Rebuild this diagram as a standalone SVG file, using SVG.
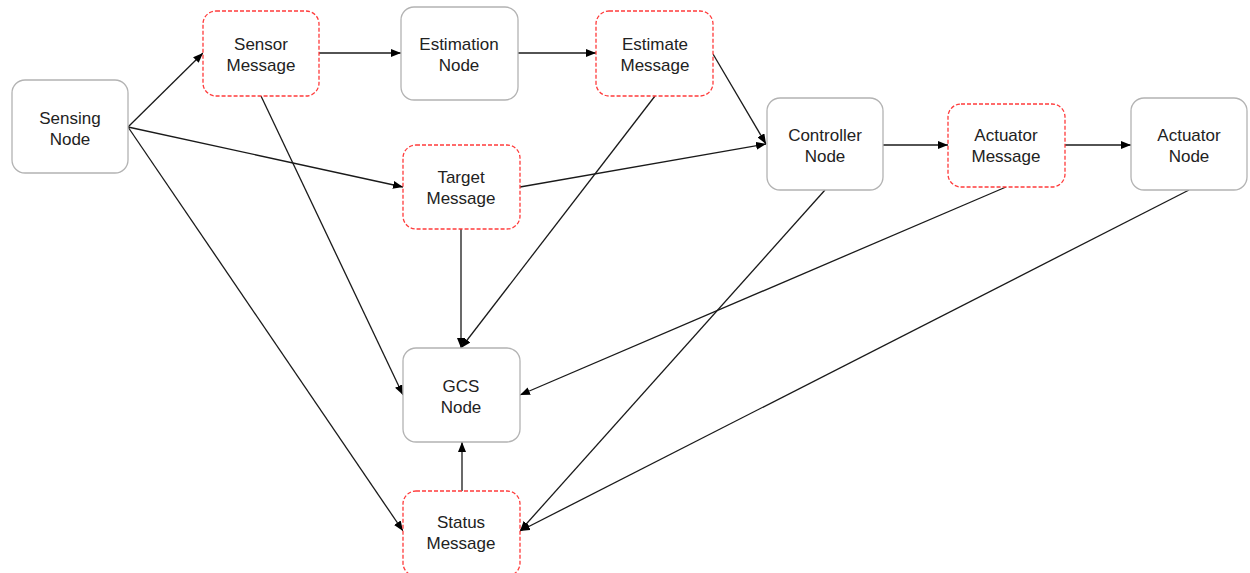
<svg xmlns="http://www.w3.org/2000/svg" width="1250" height="573" viewBox="0 0 1250 573">
  <style>
    .node { fill: #ffffff; stroke: #b3b3b3; stroke-width: 1.3; }
    .msg { fill: #ffffff; stroke: #ff3b3b; stroke-width: 1.3; stroke-dasharray: 4 2; }
    .label { font-family: "Liberation Sans", Arial, sans-serif; font-size: 17px; fill: #222222; text-anchor: middle; }
    .edge { fill: none; stroke: #1a1a1a; stroke-width: 1.3; marker-end: url(#arrow); }
  </style>
  <defs>
    <marker id="arrow" viewBox="0 0 10 8" refX="10" refY="4" markerWidth="10" markerHeight="8" markerUnits="userSpaceOnUse" orient="auto">
      <path d="M0,0 L10,4 L0,8 Z" fill="#000000"/>
    </marker>
  </defs>
  <rect width="1250" height="573" fill="#ffffff"/>

  <g id="connectors">
    <line class="edge" x1="128" y1="127" x2="203" y2="53"/>
    <line class="edge" x1="128" y1="127" x2="403" y2="187"/>
    <line class="edge" x1="128" y1="127" x2="403" y2="531"/>
    <line class="edge" x1="319" y1="53" x2="401" y2="53"/>
    <line class="edge" x1="518" y1="53" x2="596" y2="53"/>
    <line class="edge" x1="713" y1="54" x2="766" y2="144"/>
    <line class="edge" x1="520" y1="187" x2="766" y2="144"/>
    <line class="edge" x1="883" y1="145" x2="948" y2="145"/>
    <line class="edge" x1="1065" y1="145" x2="1131" y2="145"/>
    <line class="edge" x1="261" y1="96" x2="403" y2="395"/>
    <line class="edge" x1="655" y1="96" x2="461" y2="348"/>
    <line class="edge" x1="461" y1="229" x2="461" y2="348"/>
    <line class="edge" x1="1006" y1="187" x2="520" y2="395"/>
    <line class="edge" x1="825" y1="190" x2="520" y2="531"/>
    <line class="edge" x1="1189" y1="190" x2="520" y2="531"/>
    <line class="edge" x1="462" y1="491" x2="462" y2="442"/>
  </g>

  <g id="sensing-node">
    <rect class="node" x="12" y="80" width="116" height="93" rx="13"/>
    <text class="label" x="70" y="124">Sensing</text>
    <text class="label" x="70" y="145">Node</text>
  </g>
  <g id="sensor-message">
    <rect class="msg" x="203" y="11" width="116" height="85" rx="13"/>
    <text class="label" x="261" y="50">Sensor</text>
    <text class="label" x="261" y="71">Message</text>
  </g>
  <g id="estimation-node">
    <rect class="node" x="401" y="7" width="117" height="93" rx="13"/>
    <text class="label" x="459" y="50">Estimation</text>
    <text class="label" x="459" y="71">Node</text>
  </g>
  <g id="estimate-message">
    <rect class="msg" x="596" y="11" width="117" height="85" rx="13"/>
    <text class="label" x="655" y="50">Estimate</text>
    <text class="label" x="655" y="71">Message</text>
  </g>
  <g id="target-message">
    <rect class="msg" x="403" y="145" width="117" height="84" rx="13"/>
    <text class="label" x="461" y="183">Target</text>
    <text class="label" x="461" y="204">Message</text>
  </g>
  <g id="controller-node">
    <rect class="node" x="767" y="98" width="116" height="92" rx="13"/>
    <text class="label" x="825" y="141">Controller</text>
    <text class="label" x="825" y="162">Node</text>
  </g>
  <g id="actuator-message">
    <rect class="msg" x="948" y="104" width="117" height="83" rx="13"/>
    <text class="label" x="1006" y="141">Actuator</text>
    <text class="label" x="1006" y="162">Message</text>
  </g>
  <g id="actuator-node">
    <rect class="node" x="1131" y="98" width="116" height="92" rx="13"/>
    <text class="label" x="1189" y="141">Actuator</text>
    <text class="label" x="1189" y="162">Node</text>
  </g>
  <g id="gcs-node">
    <rect class="node" x="403" y="348" width="117" height="94" rx="13"/>
    <text class="label" x="461" y="392">GCS</text>
    <text class="label" x="461" y="413">Node</text>
  </g>
  <g id="status-message">
    <rect class="msg" x="403" y="491" width="117" height="85" rx="13"/>
    <text class="label" x="461" y="528">Status</text>
    <text class="label" x="461" y="549">Message</text>
  </g>
</svg>
